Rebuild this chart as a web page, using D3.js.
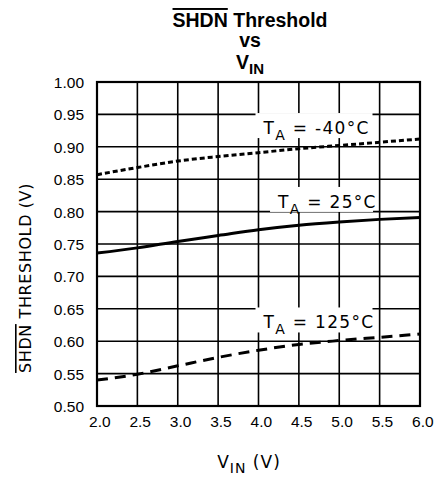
<!DOCTYPE html>
<html>
<head>
<meta charset="utf-8">
<script src="https://cdn.jsdelivr.net/npm/d3@7"></script>
<style>
  body { margin: 0; background: #fff; }
  svg text { fill: #000; }
</style>
</head>
<body>
<div id="chart"></div>
<script>
// Data
var vin = [2.0, 2.5, 3.0, 3.5, 4.0, 4.5, 5.0, 5.5, 6.0];
var tMinus40 = [0.857, 0.868, 0.878, 0.885, 0.891, 0.897, 0.902, 0.907, 0.912];
var t25 = [0.736, 0.744, 0.754, 0.763, 0.772, 0.779, 0.784, 0.788, 0.791];
var t125 = [0.540, 0.549, 0.562, 0.575, 0.586, 0.595, 0.601, 0.606, 0.611];
var xTicks = [2.0, 2.5, 3.0, 3.5, 4.0, 4.5, 5.0, 5.5, 6.0];
var yTicks = [0.50, 0.55, 0.60, 0.65, 0.70, 0.75, 0.80, 0.85, 0.90, 0.95, 1.00];
var labels = ["-40°C", "25°C", "125°C"];

// Set width and height
var width = 437,
    height = 481;
var plot = {left: 97, right: 420, top: 82, bottom: 406};

var x = d3.scaleLinear().domain([2, 6]).range([plot.left, plot.right]);
var y = d3.scaleLinear().domain([0.5, 1.0]).range([plot.bottom, plot.top]);

var svg = d3.select("#chart")
            .append("svg")
              .attr("width", width)
              .attr("height", height);

var tickFont = "'Liberation Sans', Arial, sans-serif";
var plotterFont = "'DejaVu Sans', sans-serif";

// Grid
svg.append("g")
    .selectAll("line")
    .data(xTicks.slice(1, -1))
    .enter()
    .append("line")
      .attr("x1", function(d) { return x(d); })
      .attr("x2", function(d) { return x(d); })
      .attr("y1", plot.top)
      .attr("y2", plot.bottom)
      .attr("stroke", "#000")
      .attr("stroke-width", 1.6);

svg.append("g")
    .selectAll("line")
    .data(yTicks.slice(1, -1))
    .enter()
    .append("line")
      .attr("y1", function(d) { return y(d); })
      .attr("y2", function(d) { return y(d); })
      .attr("x1", plot.left)
      .attr("x2", plot.right)
      .attr("stroke", "#000")
      .attr("stroke-width", 1.6);

// Frame
svg.append("rect")
    .attr("x", plot.left)
    .attr("y", plot.top)
    .attr("width", plot.right - plot.left)
    .attr("height", plot.bottom - plot.top)
    .attr("fill", "none")
    .attr("stroke", "#000")
    .attr("stroke-width", 2.2);

// Axes tick labels via d3 axes
var yAxis = svg.append("g")
    .attr("transform", "translate(" + plot.left + ",0)")
    .call(d3.axisLeft(y).tickValues(yTicks).tickFormat(d3.format(".2f")).tickSize(0).tickPadding(13));
var xAxis = svg.append("g")
    .attr("transform", "translate(0," + plot.bottom + ")")
    .call(d3.axisBottom(x).tickValues(xTicks).tickFormat(d3.format(".1f")).tickSize(0).tickPadding(10));
[xAxis, yAxis].forEach(function(a) {
  a.select(".domain").remove();
  a.selectAll("text")
    .style("font-family", tickFont)
    .style("font-size", "15.5px")
    .attr("fill", "#000");
});
yAxis.selectAll("text").attr("dy", "0.36em");
xAxis.selectAll("text").attr("dx", "0.15em");

// Curves
var line = d3.line()
             .x(function(d) { return x(d[0]); })
             .y(function(d) { return y(d[1]); })
             .curve(d3.curveMonotoneX);

var series = [
  {values: tMinus40, dash: "5,3"},
  {values: t25, dash: null},
  {values: t125, dash: "11,7"}
];

series.forEach(function(s) {
  svg.append("path")
      .datum(vin.map(function(v, i) { return [v, s.values[i]]; }))
      .attr("d", line)
      .attr("fill", "none")
      .attr("stroke", "#000")
      .attr("stroke-width", 3)
      .attr("stroke-dasharray", s.dash);
});

// Curve labels with white boxes
var labelPos = [
  {x: 4.0, y: 0.932, w: 117},
  {x: 4.18, y: 0.818, w: 103},
  {x: 4.0, y: 0.632, w: 117}
];
labels.forEach(function(t, i) {
  var p = labelPos[i];
  var cx = x(p.x), cy = y(p.y);
  svg.append("rect")
      .attr("x", cx - 3)
      .attr("y", cy - 13)
      .attr("width", p.w)
      .attr("height", 25)
      .attr("fill", "#fff");
  var txt = svg.append("text")
      .attr("x", cx + 5)
      .attr("y", cy + 8)
      .style("font-family", plotterFont)
      .style("font-size", "17px")
      .style("letter-spacing", "1.3px");
  txt.append("tspan").text("T");
  txt.append("tspan").attr("dy", 6).style("font-size", "14px").text("A");
  txt.append("tspan").attr("dy", -6).text(" = " + t);
});

// Title
var title = svg.append("g")
    .style("font-family", tickFont)
    .style("font-weight", "bold")
    .style("font-size", "19.5px")
    .attr("text-anchor", "middle");
var t1 = title.append("text").attr("x", 250).attr("y", 27);
t1.append("tspan").attr("text-decoration", "overline").text("SHDN");
t1.append("tspan").text(" Threshold");
title.append("text").attr("x", 250).attr("y", 47).text("vs");
var t3 = title.append("text").attr("x", 250).attr("y", 69);
t3.append("tspan").text("V");
t3.append("tspan").attr("dy", 5).style("font-size", "15px").text("IN");

// X axis title
var xt = svg.append("text")
    .attr("x", 249)
    .attr("y", 468)
    .attr("text-anchor", "middle")
    .style("font-family", plotterFont)
    .style("font-size", "17px")
    .style("letter-spacing", "1px");
xt.append("tspan").text("V");
xt.append("tspan").attr("dy", 5).style("font-size", "14px").text("IN");
xt.append("tspan").attr("dy", -5).text("  (V)");

// Y axis title
var yt = svg.append("text")
    .attr("transform", "translate(31,278) rotate(-90)")
    .attr("text-anchor", "middle")
    .style("font-family", plotterFont)
    .style("font-size", "16px")
    .style("letter-spacing", "0.6px");
yt.append("tspan").attr("text-decoration", "overline").text("SHDN");
yt.append("tspan").text(" THRESHOLD (V)");
</script>
</body>
</html>
